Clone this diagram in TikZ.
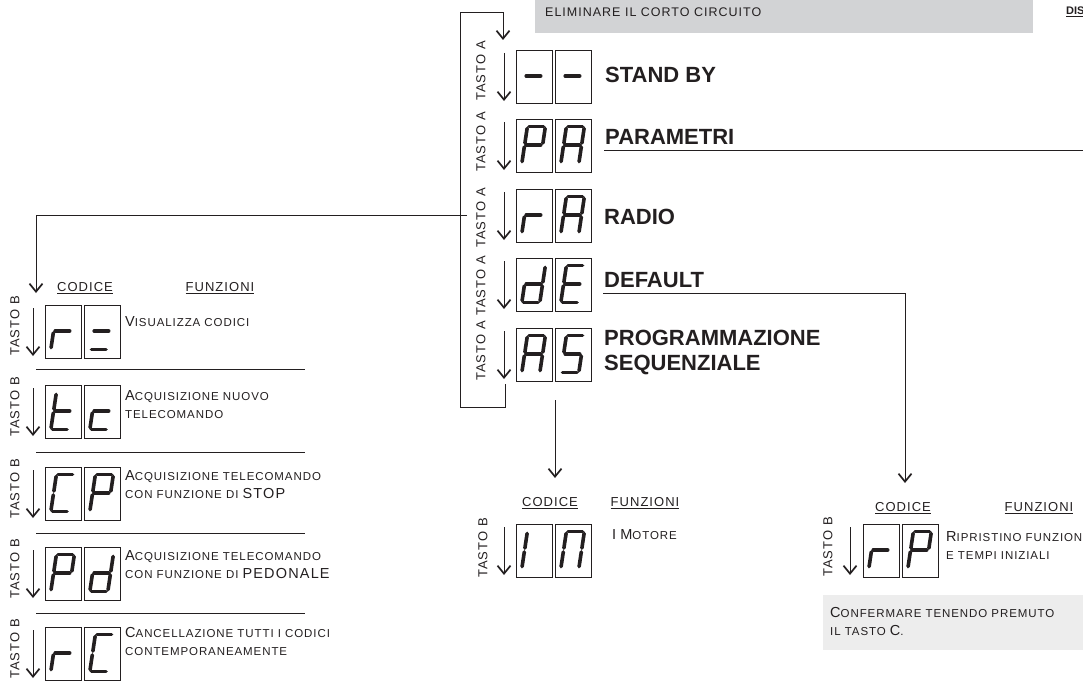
\documentclass[tikz,border=0pt]{standalone}
\usepackage{fontspec}
\setmainfont{Liberation Sans}
\newfontfamily\spacedfont[LetterSpace=8]{Liberation Sans}
\newfontfamily\scfont[LetterSpace=8]{Liberation Sans}
\usetikzlibrary{arrows.meta}
\usetikzlibrary{positioning}

\definecolor{inkgray}{HTML}{231F20}
\definecolor{topgray}{HTML}{D2D3D5}
\definecolor{notegray}{HTML}{EDEDED}

% big letter inside small caps text
\newcommand{\Cap}[1]{{\fontsize{14.5}{15}\selectfont #1}}

% seven segment pieces (box local, y down)
\newcommand{\sga}{\draw[seg] (13,7.5) -- (27.5,7.5);}
\newcommand{\sgb}{\draw[seg] (29.1,9.4) -- (26.9,24.1);}
\newcommand{\sgc}{\draw[seg] (26.3,27.9) -- (24.1,42.6);}
\newcommand{\sgd}{\draw[seg] (7.5,44.5) -- (22,44.5);}
\newcommand{\sge}{\draw[seg] (8.3,27.9) -- (6.1,42.6);}
\newcommand{\sgf}{\draw[seg] (11.1,9.4) -- (8.9,24.1);}
\newcommand{\sgg}{\draw[seg] (10.2,26) -- (24.7,26);}

\newcommand{\twodigits}[4]{%
\begin{scope}[shift={(#1,#2)}]
\draw[digframe] (0,0) rectangle (36,53);
\foreach \s in {#3}{\csname sg\s\endcsname}
\end{scope}
\begin{scope}[shift={(#1+39,#2)}]
\draw[digframe] (0,0) rectangle (36,53);
\foreach \s in {#4}{\csname sg\s\endcsname}
\end{scope}}

\begin{document}
\begin{tikzpicture}[x=1pt,y=-1pt,
  wire/.style={line width=0.9pt,draw=inkgray},
  press/.style={wire,-{Straight Barb[length=8pt,width=13pt,line width=1.7pt]}},
  digframe/.style={line width=0.8pt,draw=inkgray},
  seg/.style={line width=3.6pt,line cap=round,draw=inkgray},
  tasto/.style={rotate=90,text=inkgray,font=\spacedfont\fontsize{13}{14}\selectfont},
  menu/.style={anchor=west,text=inkgray,font=\bfseries\fontsize{22}{25}\selectfont,align=left,inner sep=0pt},
  heading/.style={text=inkgray,font=\spacedfont\fontsize{13}{14}\selectfont,inner sep=0pt},
  func/.style={anchor=west,text=inkgray,align=left,inner sep=0pt,font=\scfont\fontsize{11.5}{18}\selectfont}]
\useasboundingbox (0,0) rectangle (1083,685);

% top notes
\fill[topgray] (535,0) rectangle (1033,33);
\node[anchor=west,inner sep=0pt,text=inkgray,font=\spacedfont\fontsize{12.5}{13}\selectfont] (corto) at (545,12) {ELIMINARE IL CORTO CIRCUITO};
\node[anchor=west,inner sep=0pt,text=inkgray,font=\bfseries\fontsize{11}{12}\selectfont] (dis) at (1066,12) {\underline{DIS}};

% main menu
\twodigits{516}{50}{g}{g}
\twodigits{516}{119}{a,b,e,f,g}{a,b,c,e,f,g}
\twodigits{516}{189}{e,g}{a,b,c,e,f,g}
\twodigits{516}{258}{b,c,d,e,g}{a,d,e,f,g}
\twodigits{516}{328}{a,b,c,e,f,g}{a,c,d,f,g}

\node[tasto] (ta1) at (481,71) {TASTO A};
\node[tasto] (ta2) at (481,142) {TASTO A};
\node[tasto] (ta3) at (481,218) {TASTO A};
\node[tasto] (ta4) at (481,286) {TASTO A};
\node[tasto] (ta5) at (481,351) {TASTO A};

\draw[press] (504,53) -- (504,101);
\draw[press] (504,122) -- (504,170);
\draw[press] (504,192) -- (504,240);
\draw[press] (504,261) -- (504,309);
\draw[press] (504,331) -- (504,379);

\node[menu] (standby) at (605,75) {STAND BY};
\node[menu] (param) at (605,137) {PARAMETRI};
\node[menu] (radio) at (604,217) {RADIO};
\node[menu] (default) at (604,280) {DEFAULT};
\node[menu] (progseq) at (604,352) {PROGRAMMAZIONE\\[0pt]SEQUENZIALE};

\coordinate (loopA) at (505,384);
\coordinate (loopB) at (503,40);
\draw[press] (loopA) -- (505,407) -| (460,12) -| (loopB);

\coordinate (paramline) at (604,150);
\coordinate (paramend) at (1083,150);
\draw[wire] (paramline) -- (paramend);

\coordinate (radiojoint) at (467,215);
\coordinate (leftdrop) at (36,293);
\draw[press] (radiojoint) -| (leftdrop);

\coordinate (defline) at (603,293);
\coordinate (rpdrop) at (905,483);
\draw[press] (defline) -| (rpdrop);

\coordinate (asfoot) at (555,400);
\coordinate (imdrop) at (555,478);
\draw[press] (asfoot) -- (imdrop);

% radio codes
\node[heading] (codl) at (85,288) {\underline{CODICE}};
\node[heading] (funl) at (220,288) {\underline{FUNZIONI}};

\twodigits{45}{305}{e,g}{d,g}
\twodigits{45}{385}{d,e,f,g}{d,e,g}
\twodigits{45}{467}{a,d,e,f}{a,b,e,f,g}
\twodigits{45}{547}{a,b,e,f,g}{b,c,d,e,g}
\twodigits{45}{627}{e,g}{a,d,e,f}

\node[tasto] (tb1) at (15,326) {TASTO B};
\node[tasto] (tb2) at (15,407) {TASTO B};
\node[tasto] (tb3) at (15,489) {TASTO B};
\node[tasto] (tb4) at (15,569) {TASTO B};
\node[tasto] (tb5) at (15,649) {TASTO B};

\draw[press] (33,308) -- (33,356);
\draw[press] (33,388) -- (33,436);
\draw[press] (33,470) -- (33,518);
\draw[press] (33,550) -- (33,598);
\draw[press] (33,630) -- (33,678);

\draw[wire] (36,369) -- (305,369);
\draw[wire] (36,452) -- (305,452);
\draw[wire] (36,533) -- (305,533);
\draw[wire] (36,613) -- (305,613);

\node[func] (fr1) at (125,322) {\Cap{V}ISUALIZZA CODICI};
\node[func] (fr2) at (125,405) {\Cap{A}CQUISIZIONE NUOVO\\TELECOMANDO};
\node[func] (fr3) at (125,485) {\Cap{A}CQUISIZIONE TELECOMANDO\\CON FUNZIONE DI \Cap{STOP}};
\node[func] (fr4) at (125,565) {\Cap{A}CQUISIZIONE TELECOMANDO\\CON FUNZIONE DI \Cap{PEDONALE}};
\node[func] (fr5) at (125,641) {\Cap{C}ANCELLAZIONE TUTTI I CODICI\\CONTEMPORANEAMENTE};

% sequential programming codes
\node[heading] (codm) at (550,503) {\underline{CODICE}};
\node[heading] (funm) at (645,503) {\underline{FUNZIONI}};
\twodigits{516}{524}{e,f}{a,b,c,e,f}
\node[tasto] (tbm) at (483,548) {TASTO B};
\draw[press] (504,527) -- (504,575);
\node[func] (motore) at (612,535) {\Cap{I} \Cap{M}OTORE};

% default codes
\node[heading] (codr) at (903,508) {\underline{CODICE}};
\node[heading] (funr) at (1039,508) {\underline{FUNZIONI}};
\twodigits{863}{524}{e,g}{a,b,e,f,g}
\node[tasto] (tbr) at (828,547) {TASTO B};
\draw[press] (850,527) -- (850,575);
\node[func] (ripr) at (946,546) {\Cap{R}IPRISTINO FUNZION\\E TEMPI INIZIALI};

\fill[notegray] (823,595) rectangle (1083,650);
\node[func] (conf) at (830,621) {\Cap{C}ONFERMARE TENENDO PREMUTO\\IL TASTO \Cap{C}.};

\end{tikzpicture}
\end{document}
